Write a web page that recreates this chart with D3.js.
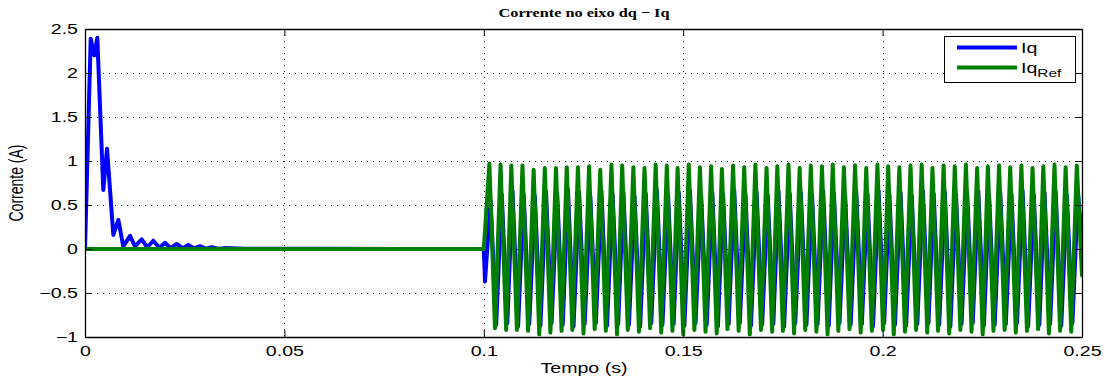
<!DOCTYPE html>
<html>
<head>
<meta charset="utf-8">
<script src="https://cdn.jsdelivr.net/npm/d3@7"></script>
<style>
  html, body { margin: 0; padding: 0; background: #fff; }
  svg { display: block; }
</style>
</head>
<body>
<svg id="chart" width="1105" height="380"></svg>
<script>
// Axis ticks
const xTicks = [0, 0.05, 0.1, 0.15, 0.2, 0.25];
const xTickLabels = ["0", "0.05", "0.1", "0.15", "0.2", "0.25"];
const yTicks = [-1, -0.5, 0, 0.5, 1, 1.5, 2, 2.5];
const yTickLabels = ["\u22121", "\u22120.5", "0", "0.5", "1", "1.5", "2", "2.5"];

// Iq during start-up (time s, current A)
const iqStartT = [0, 0.00143, 0.00234, 0.00309, 0.00459, 0.00552, 0.0071, 0.00836, 0.0096, 0.0113, 0.01254, 0.01421, 0.01563, 0.01713, 0.01864, 0.02006, 0.0215, 0.023, 0.0245, 0.0259, 0.0274, 0.0288, 0.0303, 0.0318, 0.0333, 0.0350, 0.0400, 0.0600, 0.0800, 0.1000];
const iqStartV = [0, 2.39, 2.2, 2.40, 0.67, 1.14, 0.16, 0.33, 0.03, 0.15, 0.03, 0.11, 0.02, 0.094, 0.015, 0.07, 0.01, 0.057, 0.008, 0.045, 0.006, 0.032, 0.004, 0.02, 0.003, 0.01, 0.004, 0.002, 0.001, 0];

// Iq_Ref after the step at 0.1 s: peaks and troughs per cycle
const refPeakT = [0.1014, 0.1042, 0.1069, 0.1097, 0.1125, 0.1153, 0.1181, 0.1208, 0.1236, 0.1264,
  0.1292, 0.1320, 0.1347, 0.1375, 0.1403, 0.1431, 0.1459, 0.1486, 0.1514, 0.1542,
  0.1570, 0.1597, 0.1625, 0.1653, 0.1681, 0.1709, 0.1736, 0.1764, 0.1792, 0.1820,
  0.1848, 0.1875, 0.1903, 0.1931, 0.1959, 0.1987, 0.2014, 0.2042, 0.2070, 0.2098,
  0.2125, 0.2153, 0.2181, 0.2209, 0.2237, 0.2264, 0.2292, 0.2320, 0.2348, 0.2376,
  0.2403, 0.2431, 0.2459, 0.2487];
const refPeakV = [0.97, 0.96, 0.95, 0.95, 0.90, 0.92, 0.92, 0.93, 0.93, 0.94,
  0.90, 0.96, 0.95, 0.93, 0.92, 0.96, 0.95, 0.92, 0.96, 0.93,
  0.94, 0.91, 0.95, 0.93, 0.96, 0.92, 0.94, 0.96, 0.92, 0.95,
  0.94, 0.96, 0.93, 0.95, 0.92, 0.96, 0.94, 0.93, 0.95, 0.96,
  0.92, 0.95, 0.94, 0.96, 0.92, 0.94, 0.95, 0.93, 0.95, 0.92,
  0.94, 0.96, 0.93, 0.95];
const refTroughT = [0.1028, 0.1056, 0.1083, 0.1111, 0.1139, 0.1167, 0.1195, 0.1222, 0.1250, 0.1278,
  0.1306, 0.1334, 0.1361, 0.1389, 0.1417, 0.1445, 0.1473, 0.1500, 0.1528, 0.1556,
  0.1584, 0.1611, 0.1639, 0.1667, 0.1695, 0.1723, 0.1750, 0.1778, 0.1806, 0.1834,
  0.1862, 0.1889, 0.1917, 0.1945, 0.1973, 0.2001, 0.2028, 0.2056, 0.2084, 0.2112,
  0.2139, 0.2167, 0.2195, 0.2223, 0.2251, 0.2278, 0.2306, 0.2334, 0.2362, 0.2390,
  0.2417, 0.2445, 0.2473];
const refTroughV = [-0.90, -0.92, -0.92, -0.93, -0.97, -0.95, -0.93, -0.92, -0.96, -0.91,
  -0.93, -0.97, -0.92, -0.94, -0.90, -0.95, -0.93, -0.97, -0.92, -0.94,
  -0.96, -0.91, -0.93, -0.97, -0.92, -0.94, -0.93, -0.96, -0.92, -0.94,
  -0.97, -0.93, -0.91, -0.95, -0.93, -0.92, -0.97, -0.94, -0.92, -0.95,
  -0.93, -0.96, -0.92, -0.94, -0.97, -0.93, -0.92, -0.95, -0.93, -0.91,
  -0.96, -0.93, -0.94];

// Iq after the step: follows the reference with lower peaks
const iqPeakV = [0.55, 0.62, 0.66, 0.62, 0.60, 0.65, 0.63, 0.68, 0.64, 0.60,
  0.66, 0.62, 0.65, 0.60, 0.63, 0.67, 0.62, 0.64, 0.66, 0.61,
  0.64, 0.62, 0.67, 0.63, 0.65, 0.61, 0.66, 0.63, 0.64, 0.62,
  0.66, 0.63, 0.61, 0.65, 0.63, 0.66, 0.62, 0.64, 0.61, 0.66,
  0.63, 0.65, 0.62, 0.64, 0.66, 0.61, 0.64, 0.63, 0.66, 0.62,
  0.64, 0.65, 0.61, 0.63];
const iqTroughV = [-0.86, -0.84, -0.88, -0.85, -0.87, -0.84, -0.86, -0.88, -0.85, -0.84,
  -0.87, -0.85, -0.86, -0.88, -0.84, -0.86, -0.85, -0.87, -0.84, -0.86,
  -0.88, -0.85, -0.84, -0.87, -0.86, -0.85, -0.88, -0.84, -0.86, -0.85,
  -0.87, -0.84, -0.86, -0.85, -0.88, -0.84, -0.86, -0.87, -0.85, -0.84,
  -0.86, -0.88, -0.85, -0.84, -0.87, -0.86, -0.85, -0.84, -0.88, -0.86,
  -0.85, -0.87, -0.84];

const seriesNames = ["Iq", "Iq"];
const seriesSubs = ["", "Ref"];
const seriesColors = ["#0000ff", "#007f00"];

// ---- build the point lists ----
const iqPoints = iqStartT.map((t, i) => [t, iqStartV[i]]);
iqPoints.push([0.1003, -0.37]);
const lag = 0.0003;
refPeakT.forEach((t, i) => {
  iqPoints.push([t + lag, iqPeakV[i]]);
  if (i < refTroughT.length) iqPoints.push([refTroughT[i] + lag, iqTroughV[i]]);
});
iqPoints.push([0.25, 0.1]);

const refPoints = [[0, 0], [0.1, 0]];
refPeakT.forEach((t, i) => {
  refPoints.push([t, refPeakV[i]]);
  if (i < refTroughT.length) refPoints.push([refTroughT[i], refTroughV[i]]);
});
refPoints.push([0.25, -0.3]);

// ---- layout ----
const W = 1105, H = 380;
const svg = d3.select("#chart");
const margin = { left: 85, right: W - 1082, top: 29, bottom: H - 337 };
const x = d3.scaleLinear().domain([0, 0.25]).range([margin.left, W - margin.right]);
const y = d3.scaleLinear().domain([-1, 2.5]).range([H - margin.bottom, margin.top]);
const sansFont = "'Liberation Sans', Arial, Helvetica, sans-serif";
const stretch = 1.4;   // text is drawn wide, as in the exported figure

svg.append("rect").attr("width", W).attr("height", H).attr("fill", "#fff");

// grid
const grid = svg.append("g").attr("stroke", "#222").attr("stroke-width", 1)
  .attr("stroke-dasharray", "1,5").attr("shape-rendering", "crispEdges");
xTicks.slice(1, -1).forEach(v => {
  grid.append("line").attr("x1", Math.round(x(v)) + 0.5).attr("x2", Math.round(x(v)) + 0.5)
    .attr("y1", y(2.5)).attr("y2", y(-1));
});
yTicks.slice(1, -1).forEach(v => {
  grid.append("line").attr("y1", Math.round(y(v)) + 0.5).attr("y2", Math.round(y(v)) + 0.5)
    .attr("x1", x(0)).attr("x2", x(0.25));
});

// data lines
svg.append("clipPath").attr("id", "plotclip").append("rect")
  .attr("x", x(0)).attr("y", y(2.5)).attr("width", x(0.25) - x(0)).attr("height", y(-1) - y(2.5));
const line = d3.line().x(d => x(d[0])).y(d => y(d[1]));
const plot = svg.append("g").attr("clip-path", "url(#plotclip)");
[iqPoints, refPoints].forEach((pts, i) => {
  plot.append("path").datum(pts).attr("d", line)
    .attr("fill", "none").attr("stroke", seriesColors[i]).attr("stroke-width", 4)
    .attr("stroke-linejoin", "round").attr("stroke-linecap", "round");
});

// axes (ticks pointing inward, box on all sides)
const xAxisB = d3.axisBottom(x).tickValues(xTicks).tickFormat((d, i) => xTickLabels[i]).tickSizeInner(-7).tickSizeOuter(0).tickPadding(9);
const xAxisT = d3.axisTop(x).tickValues(xTicks).tickFormat("").tickSizeInner(-7).tickSizeOuter(0);
const yAxisL = d3.axisLeft(y).tickValues(yTicks).tickFormat((d, i) => yTickLabels[i]).tickSizeInner(-7).tickSizeOuter(0).tickPadding(5);
const yAxisR = d3.axisRight(y).tickValues(yTicks).tickFormat("").tickSizeInner(-7).tickSizeOuter(0);
[[xAxisB, `translate(0,${y(-1)})`], [xAxisT, `translate(0,${y(2.5)})`],
 [yAxisL, `translate(${x(0)},0)`], [yAxisR, `translate(${x(0.25)},0)`]].forEach(([ax, tr]) => {
  const g = svg.append("g").attr("transform", tr).call(ax);
  g.select(".domain").attr("stroke", "#000").attr("stroke-width", 1.3);
  g.selectAll(".tick line").attr("stroke", "#000");
  g.selectAll(".tick text").attr("fill", "#000").attr("font-family", sansFont).attr("font-size", 14)
    .attr("transform", `scale(${stretch},1)`);
});

// title and axis labels
svg.append("text").attr("transform", "translate(584,17) scale(1.25,1)").attr("text-anchor", "middle")
  .attr("font-family", "'Liberation Serif', 'Times New Roman', serif").attr("font-weight", "bold")
  .attr("font-size", 13).text("Corrente no eixo dq \u2212 Iq");
svg.append("text").attr("transform", `translate(584,373) scale(${stretch},1)`).attr("text-anchor", "middle")
  .attr("font-family", sansFont).attr("font-size", 14).text("Tempo (s)");
svg.append("text").attr("transform", `translate(23,183) scale(${stretch},1) rotate(-90)`).attr("text-anchor", "middle")
  .attr("font-family", sansFont).attr("font-size", 14).text("Corrente (A)");

// legend
const lg = svg.append("g");
lg.append("rect").attr("x", 944.5).attr("y", 36.5).attr("width", 131).attr("height", 46)
  .attr("fill", "#fff").attr("stroke", "#000").attr("stroke-width", 1);
seriesNames.forEach((name, i) => {
  const yy = 47.5 + i * 20;
  lg.append("line").attr("x1", 957).attr("x2", 1017).attr("y1", yy).attr("y2", yy)
    .attr("stroke", seriesColors[i]).attr("stroke-width", 4);
  const t = lg.append("text").attr("transform", `translate(1021,${yy + 5}) scale(${stretch},1)`)
    .attr("font-family", sansFont).attr("font-size", 14).text(name);
  if (seriesSubs[i]) t.append("tspan").attr("dy", 4).attr("font-size", 11).text(seriesSubs[i]);
});
</script>
</body>
</html>
